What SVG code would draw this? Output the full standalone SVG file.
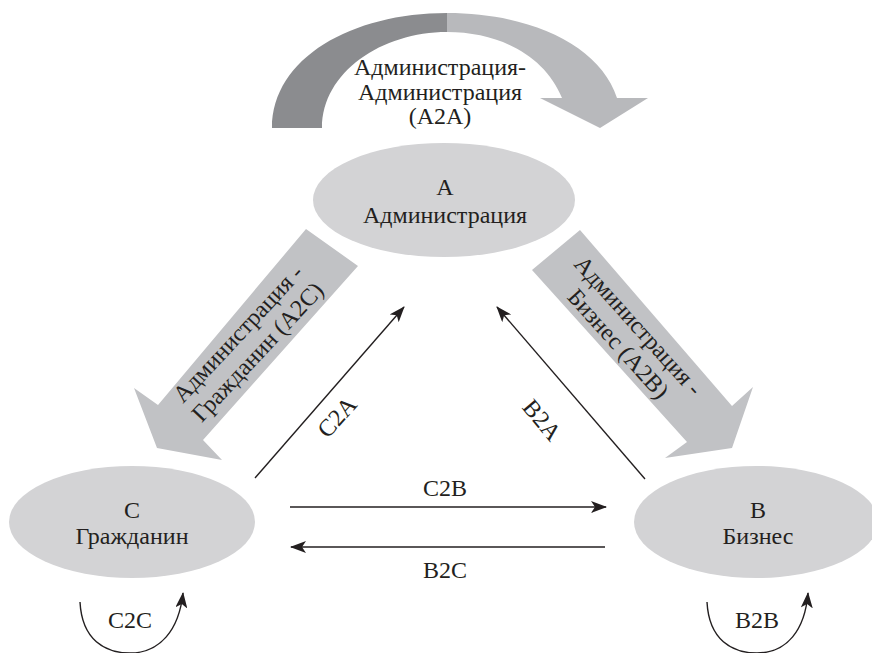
<svg xmlns="http://www.w3.org/2000/svg" width="872" height="653" viewBox="0 0 872 653">
<defs>
<style>
text{font-family:"Liberation Serif","Times New Roman",serif;font-size:24px;fill:#231f20;text-anchor:middle}
.node{fill:#d3d3d5}
.big{fill:#c1c2c5}
.ln{stroke:#231f20;stroke-width:1.4;fill:none}
</style>
<marker id="ah" viewBox="0 0 16 12" refX="15" refY="6" markerWidth="16" markerHeight="12" markerUnits="userSpaceOnUse" orient="auto">
<path d="M0,0 L16,6 L0,12 L4,6 Z" fill="#231f20"/>
</marker>
</defs>
<rect width="872" height="653" fill="#fff"/>

<g id="a2a">
<path d="M272,128 C272,58 352,13 447,13 L447,32 C382,32 322,72 322,128 Z" fill="#8b8c8f"/>
<path d="M447,13 C530,13 600,45 617,98 L648,98 L600,128 L540,98 L562,98 C545,56 500,32 447,32 Z" fill="#b8b9bc"/>
<text x="440" y="75">Администрация-</text>
<text x="440" y="100">Администрация</text>
<text x="440" y="124">(A2A)</text>
</g>

<g id="a2c">
<polygon class="big" points="306,229 358,266 203,440 222,460 157,448 134,388 158,405"/>
<g transform="translate(248,343) rotate(-47)">
<text x="0" y="-6">Администрация -</text>
<text x="0" y="21">Гражданин (A2C)</text>
</g>
</g>

<g id="a2b">
<polygon class="big" points="580,230 732,406 753,387 732,448 665,458 687,442 532,270"/>
<g transform="translate(628,335) rotate(48)">
<text x="0" y="-6">Администрация -</text>
<text x="0" y="21">Бизнес (A2B)</text>
</g>
</g>

<g id="nodeA">
<ellipse class="node" cx="444" cy="200" rx="131" ry="57"/>
<text x="445" y="195">A</text>
<text x="445" y="223">Администрация</text>
</g>

<g id="nodeC">
<ellipse class="node" cx="132" cy="522" rx="123" ry="56"/>
<text x="132" y="518">C</text>
<text x="132" y="544">Гражданин</text>
</g>

<g id="nodeB">
<ellipse class="node" cx="756" cy="522" rx="122" ry="56"/>
<text x="758" y="518">B</text>
<text x="758" y="544">Бизнес</text>
</g>

<g id="connectors">
<line class="ln" x1="255" y1="478" x2="404" y2="307" marker-end="url(#ah)"/>
<line class="ln" x1="645" y1="479" x2="497" y2="307" marker-end="url(#ah)"/>
<line class="ln" x1="290" y1="507" x2="606" y2="507" marker-end="url(#ah)"/>
<line class="ln" x1="605" y1="547" x2="291" y2="547" marker-end="url(#ah)"/>
<path class="ln" d="M80,602 C82,640 105,653 130,653 C160,653 179,630 183,593" marker-end="url(#ah)"/>
<path class="ln" d="M707,602 C709,640 732,653 757,653 C787,653 805,630 808,593" marker-end="url(#ah)"/>
<text transform="translate(337,417) rotate(-48)" x="0" y="8">C2A</text>
<text transform="translate(542,420) rotate(50)" x="0" y="8">B2A</text>
<text x="445" y="496">C2B</text>
<text x="445" y="578">B2C</text>
<text x="130" y="628">C2C</text>
<text x="757" y="628">B2B</text>
</g>
</svg>
